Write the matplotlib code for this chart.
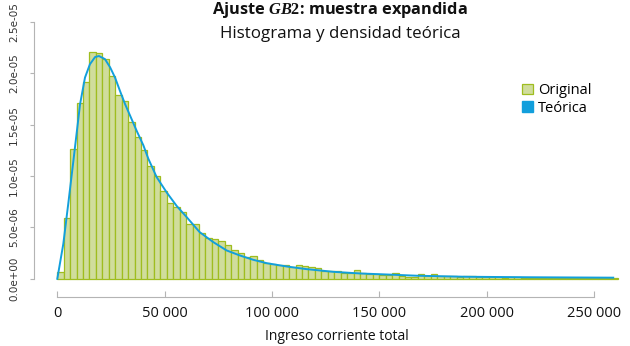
import matplotlib
matplotlib.use("Agg")
import matplotlib.pyplot as plt
from matplotlib.patches import Patch

# histogram (bin width 3000)
BIN = 3000
hist_vals = [
    7.1e-7, 5.97e-6, 1.266e-5, 1.714e-5, 1.919e-5, 2.211e-5, 2.197e-5, 2.143e-5,
    1.98e-5, 1.795e-5, 1.73e-5, 1.532e-5, 1.379e-5, 1.259e-5, 1.094e-5, 1.006e-5,
    8.6e-6, 7.4e-6, 7.04e-6, 6.52e-6, 5.36e-6, 5.36e-6, 4.48e-6, 3.99e-6,
    3.86e-6, 3.7e-6, 3.31e-6, 2.82e-6, 2.53e-6, 2.1e-6, 2.2e-6, 1.85e-6,
    1.52e-6, 1.46e-6, 1.39e-6, 1.33e-6, 1.17e-6, 1.39e-6, 1.27e-6, 1.17e-6,
    1.03e-6, 7.8e-7, 7.8e-7, 7.8e-7, 5.2e-7, 5.2e-7, 8.1e-7, 5.2e-7,
    4.5e-7, 4.5e-7, 3.9e-7, 3.9e-7, 5.8e-7, 3.2e-7, 2.2e-7, 2.2e-7,
    4.9e-7, 2.9e-7, 4.9e-7, 2.5e-7, 2.5e-7, 3.2e-7, 2.0e-7, 2.9e-7,
    2.9e-7, 1.7e-7, 1.5e-7, 1.6e-7, 1.4e-7, 1.2e-7, 1.5e-7, 1.3e-7,
    1.1e-7, 1.2e-7, 1.0e-7, 1.1e-7, 0.9e-7, 1.0e-7, 0.9e-7, 0.8e-7,
    1.0e-7, 0.8e-7, 0.7e-7, 0.9e-7, 0.7e-7, 0.8e-7, 0.7e-7,
]
bin_left = [i * BIN for i in range(len(hist_vals))]

# theoretical density, points
curve_x = [0, 2800, 5100, 7500, 10600, 12900, 15200, 17600, 19400, 22200,
           24600, 26900, 29200, 31600, 33900, 37000, 40100, 42400, 46300, 51000,
           55600, 60300, 66300, 72700, 78900, 85100, 91300, 97600, 106900, 116200,
           128600, 141000, 153500, 167500, 190000, 220000, 259000]
curve_y = [0, 3.4e-6, 7.3e-6, 1.15e-5, 1.70e-5, 1.96e-5, 2.09e-5, 2.16e-5, 2.17e-5, 2.14e-5,
           2.06e-5, 1.96e-5, 1.83e-5, 1.70e-5, 1.59e-5, 1.44e-5, 1.30e-5, 1.17e-5, 9.9e-6, 8.4e-6,
           7.1e-6, 6.0e-6, 4.55e-6, 3.57e-6, 2.76e-6, 2.27e-6, 1.85e-6, 1.52e-6, 1.2e-6, 9.4e-7,
           6.8e-7, 5.2e-7, 4.2e-7, 3.0e-7, 2.0e-7, 1.5e-7, 1.1e-7]

xticks = [0, 50000, 100000, 150000, 200000, 250000]
xtick_labels = ["0", "50 000", "100 000", "150 000", "200 000", "250 000"]
yticks = [0, 5e-6, 1e-5, 1.5e-5, 2e-5, 2.5e-5]
ytick_labels = ["0.0e+00", "5.0e-06", "1.0e-05", "1.5e-05", "2.0e-05", "2.5e-05"]

GREEN_FILL = "#d0dd9c"
GREEN_EDGE = "#9fbd1f"
BLUE = "#129fdc"
GRAY = "#b4b4b4"

plt.rcParams["mathtext.fontset"] = "custom"
plt.rcParams["mathtext.it"] = "Liberation Serif:italic:bold"
plt.rcParams["mathtext.rm"] = "Liberation Serif:bold"

W, H = 630, 346
fig = plt.figure(figsize=(W / 100, H / 100), dpi=100)

# pixel calibration of the reference
X0PX, XSCALE = 57.3, 0.0021464      # px of x=0, px per unit
Y0PX, YSCALE = 278.8, 1.0267e7      # px of y=0, px per unit
L, R, T, B = 40, 625, 15, 283
ax = fig.add_axes([L / W, 1 - B / H, (R - L) / W, (B - T) / H])
ax.set_xlim((L - X0PX) / XSCALE, (R - X0PX) / XSCALE)
ax.set_ylim((Y0PX - B) / YSCALE, (Y0PX - T) / YSCALE)

ax.bar(bin_left, hist_vals, width=BIN, align="edge", color=GREEN_FILL,
       edgecolor=GREEN_EDGE, linewidth=0.9)
ax.plot(curve_x, curve_y, color=BLUE, linewidth=1.4)

for s in ("top", "right"):
    ax.spines[s].set_visible(False)
ax.spines["left"].set_position(("outward", (L - 34.3) * 0.72))
ax.spines["left"].set_bounds(0, 2.5e-5)
ax.spines["bottom"].set_position(("outward", (296.7 - B) * 0.72))
ax.spines["bottom"].set_bounds(0, 250000)
for s in ("left", "bottom"):
    ax.spines[s].set_color(GRAY)
    ax.spines[s].set_linewidth(0.8)

ax.set_xticks(xticks)
ax.set_xticklabels(xtick_labels, fontfamily="Open Sans", fontsize=10.5, color="#111111")
ax.tick_params(axis="x", direction="in", length=4.1, width=0.8, color=GRAY, pad=6.5)
ax.set_yticks(yticks)
ax.set_yticklabels(ytick_labels, rotation=90, va="center",
                   fontfamily=["Liberation Sans Narrow", "DejaVu Sans"], fontsize=7.5,
                   color="#333333")
ax.tick_params(axis="y", direction="out", length=3.1, width=0.8, color=GRAY, pad=8)

fig.text(340 / W, 1 - 10 / H, r"Ajuste $GB2$: muestra expandida", ha="center", va="center",
         fontfamily="Open Sans", fontweight="bold", fontsize=11.8, color="#111111")
fig.text(340 / W, 1 - 34 / H, "Histograma y densidad teórica", ha="center", va="center",
         fontfamily="Open Sans", fontsize=12.2, color="#111111")
fig.text(337 / W, 1 - 337 / H, "Ingreso corriente total", ha="center", va="center",
         fontfamily="Open Sans", fontsize=10, color="#111111")

handles = [Patch(facecolor=GREEN_FILL, edgecolor=GREEN_EDGE, linewidth=0.9, label="Original"),
           Patch(facecolor=BLUE, edgecolor=BLUE, label="Teórica")]
fig.legend(handles=handles, loc="upper left", bbox_to_anchor=(522 / W, 1 - 83 / H),
           frameon=False, handlelength=0.75, handleheight=0.75, handletextpad=0.35,
           labelspacing=0.2, borderaxespad=0, borderpad=0,
           prop={"family": "Open Sans", "size": 10.5})

fig.savefig("out.png", dpi=100)
